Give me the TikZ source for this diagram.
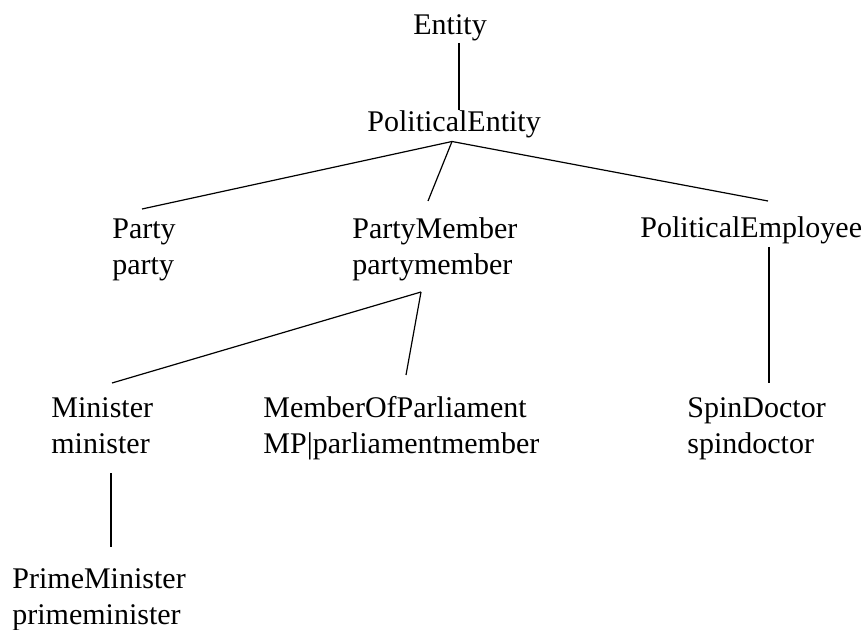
\documentclass[tikz,border=0pt]{standalone}
\usepackage{fontspec}
\setmainfont{Liberation Serif}
\usetikzlibrary{positioning, calc}

\begin{document}
\begin{tikzpicture}[
    x=0.5pt, y=-0.5pt,
    every node/.style={font=\fontsize{15}{18}\selectfont},
    cls/.style={inner sep=0pt, anchor=base west, align=left},
    link/.style={line width=0.6pt, black}
]
    \useasboundingbox (0,0) rectangle (866,630);

    % Nodes (base = last line)
    \node (entity) [cls] at (413,35) {Entity};
    \node (polent) [cls] at (367,132) {PoliticalEntity};
    \node (party) [cls] at (112,275) {Party\\party};
    \node (member) [cls] at (352,275) {PartyMember\\partymember};
    \node (employee) [cls] at (640,238) {PoliticalEmployee};
    \node (minister) [cls] at (51,453) {Minister\\minister};
    \node (mp) [cls] at (263,453) {MemberOfParliament\\MP|parliamentmember};
    \node (spin) [cls] at (687,453) {SpinDoctor\\spindoctor};
    \node (prime) [cls] at (12,624) {PrimeMinister\\primeminister};

    % Connections
    \draw [link] ([shift={(46,8)}]entity.base west) -- ([shift={(92,-22)}]polent.base west);
    \draw [link] ([shift={(85,9.5)}]polent.base west) -- ([shift={(30,-66)}]party.base west);
    \draw [link] ([shift={(85,9.5)}]polent.base west) -- ([shift={(76,-74)}]member.base west);
    \draw [link] ([shift={(85,9.5)}]polent.base west) -- ([shift={(128,-37)}]employee.base west);
    \draw [link] ([shift={(69,17)}]member.base west) -- ([shift={(61,-70)}]minister.base west);
    \draw [link] ([shift={(69,17)}]member.base west) -- ([shift={(143,-78)}]mp.base west);
    \draw [link] ([shift={(129,9)}]employee.base west) -- ([shift={(82,-70)}]spin.base west);
    \draw [link] ([shift={(60,20)}]minister.base west) -- ([shift={(99,-77)}]prime.base west);
\end{tikzpicture}
\end{document}
